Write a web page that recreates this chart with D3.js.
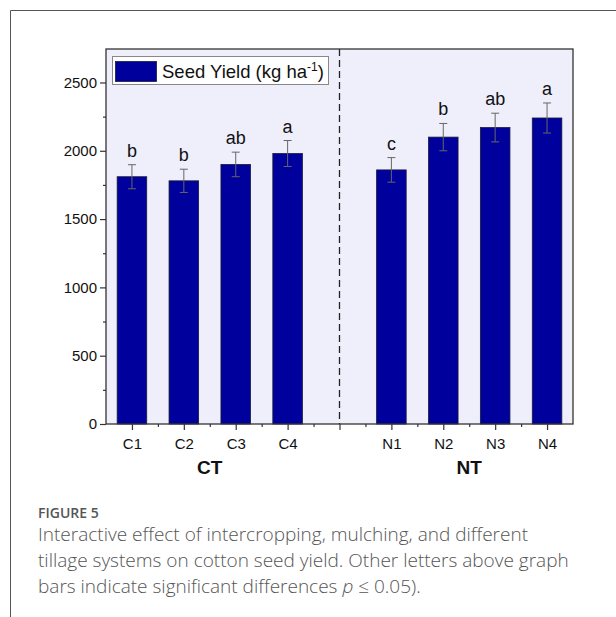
<!DOCTYPE html>
<html>
<head>
<meta charset="utf-8">
<script src="https://cdn.jsdelivr.net/npm/d3@7"></script>
<style>
  html, body { margin: 0; padding: 0; background: #fff; }
  svg { display: block; }
</style>
</head>
<body>
<script>
// Treatments, mean seed yield (kg ha-1), standard error and significance letters
const categories = ["C1", "C2", "C3", "C4", "N1", "N2", "N3", "N4"];
const positions = [0, 1, 2, 3, 5, 6, 7, 8];
const yieldValues = [1810, 1780, 1900, 1980, 1860, 2100, 2170, 2240];
const errorValues = [88, 85, 90, 95, 90, 100, 105, 110];
const letters = ["b", "b", "ab", "a", "c", "b", "ab", "a"];
const groups = ["CT", "NT"];
const groupCenters = [1.5, 6.5];
const yTicks = [0, 500, 1000, 1500, 2000, 2500];

const W = 616, H = 617;
const svg = d3.select("body").append("svg").attr("width", W).attr("height", H);

// outer card border (top and left edges)
svg.append("path")
  .attr("d", `M10.5,${H} L10.5,10.5 L${W},10.5`)
  .attr("fill", "none").attr("stroke", "#555").attr("stroke-width", 1);

const plot = { left: 106, right: 573, top: 49, bottom: 424 };

const x = d3.scaleLinear().domain([-0.5, 8.5]).range([plot.left, plot.right]);
const y = d3.scaleLinear().domain([0, 2745]).range([plot.bottom, plot.top]);

const font = "'Liberation Sans', Arial, sans-serif";

// plot background
svg.append("rect")
  .attr("x", plot.left).attr("y", plot.top)
  .attr("width", plot.right - plot.left).attr("height", plot.bottom - plot.top)
  .attr("fill", "#efeffb");

// separator between tillage systems
svg.append("line")
  .attr("x1", x(4)).attr("x2", x(4))
  .attr("y1", plot.top).attr("y2", plot.bottom)
  .attr("stroke", "#222").attr("stroke-width", 1.3)
  .attr("stroke-dasharray", "7,4");

const barW = x(0.57) - x(0);

const data = categories.map((c, i) => ({
  c, pos: positions[i], v: yieldValues[i], e: errorValues[i], l: letters[i]
}));

// bars
svg.append("g").selectAll("rect").data(data).join("rect")
  .attr("x", d => x(d.pos) - barW / 2)
  .attr("y", d => y(d.v))
  .attr("width", barW)
  .attr("height", d => y(0) - y(d.v))
  .attr("fill", "#00009c")
  .attr("stroke", "#1a1a3a").attr("stroke-width", 0.8);

// error bars
const eg = svg.append("g").attr("stroke", "#666").attr("stroke-width", 1);
eg.selectAll("line.v").data(data).join("line").attr("class", "v")
  .attr("x1", d => x(d.pos)).attr("x2", d => x(d.pos))
  .attr("y1", d => y(d.v + d.e)).attr("y2", d => y(d.v - d.e));
eg.selectAll("line.t").data(data).join("line").attr("class", "t")
  .attr("x1", d => x(d.pos) - 4).attr("x2", d => x(d.pos) + 4)
  .attr("y1", d => y(d.v + d.e)).attr("y2", d => y(d.v + d.e));
eg.selectAll("line.b").data(data).join("line").attr("class", "b")
  .attr("x1", d => x(d.pos) - 4).attr("x2", d => x(d.pos) + 4)
  .attr("y1", d => y(d.v - d.e)).attr("y2", d => y(d.v - d.e));

// significance letters
svg.append("g").selectAll("text").data(data).join("text")
  .attr("x", d => x(d.pos))
  .attr("y", d => y(d.v + d.e) - 8)
  .attr("text-anchor", "middle")
  .attr("font-family", font).attr("font-size", 18).attr("fill", "#111")
  .text(d => d.l);

// plot frame
svg.append("rect")
  .attr("x", plot.left).attr("y", plot.top)
  .attr("width", plot.right - plot.left).attr("height", plot.bottom - plot.top)
  .attr("fill", "none").attr("stroke", "#333").attr("stroke-width", 1.3);

// y axis
const yAxis = svg.append("g").attr("transform", `translate(${plot.left},0)`)
  .call(d3.axisLeft(y).tickValues(yTicks).tickSize(6).tickPadding(3).tickFormat(d3.format("d")));
yAxis.select(".domain").remove();
yAxis.selectAll("text").attr("font-family", font).attr("font-size", 15).attr("fill", "#111");
yAxis.selectAll("line").attr("stroke", "#333").attr("stroke-width", 1.2);
const yMinor = svg.append("g").attr("transform", `translate(${plot.left},0)`)
  .call(d3.axisLeft(y).tickValues(d3.range(250, 2750, 500)).tickSize(3).tickFormat(""));
yMinor.select(".domain").remove();
yMinor.selectAll("line").attr("stroke", "#333").attr("stroke-width", 1.2);

// x axis: major ticks at each slot, labels at categories
const xAxis = svg.append("g").attr("transform", `translate(0,${plot.bottom})`)
  .call(d3.axisBottom(x).tickValues(d3.range(0, 9)).tickSize(6).tickPadding(8)
    .tickFormat(d => { const i = positions.indexOf(d); return i >= 0 ? categories[i] : ""; }));
xAxis.select(".domain").remove();
xAxis.selectAll("text").attr("font-family", font).attr("font-size", 15).attr("fill", "#111");
xAxis.selectAll("line").attr("stroke", "#333").attr("stroke-width", 1.2);
const xMinor = svg.append("g").attr("transform", `translate(0,${plot.bottom})`)
  .call(d3.axisBottom(x).tickValues(d3.range(0.5, 8.5, 1)).tickSize(3).tickFormat(""));
xMinor.select(".domain").remove();
xMinor.selectAll("line").attr("stroke", "#333").attr("stroke-width", 1.2);

// group titles
svg.append("g").selectAll("text").data(groups).join("text")
  .attr("x", (d, i) => x(groupCenters[i]))
  .attr("y", 474)
  .attr("text-anchor", "middle")
  .attr("font-family", font).attr("font-size", 19).attr("font-weight", "bold").attr("fill", "#111")
  .text(d => d);

// legend
const lg = svg.append("g");
lg.append("rect").attr("x", 112.5).attr("y", 56.5).attr("width", 216).attr("height", 28)
  .attr("fill", "#fff").attr("stroke", "#888").attr("stroke-width", 1);
lg.append("rect").attr("x", 115.5).attr("y", 61.5).attr("width", 41).attr("height", 20)
  .attr("fill", "#00009c").attr("stroke", "#1a1a3a").attr("stroke-width", 0.8);
const lt = lg.append("text").attr("x", 162).attr("y", 78)
  .attr("font-family", font).attr("font-size", 18.5).attr("fill", "#111");
lt.append("tspan").text("Seed Yield (kg ha");
lt.append("tspan").attr("font-size", 12).attr("dy", -7).text("-1");
lt.append("tspan").attr("dy", 7).text(")");

// caption
const capFont = "'Open Sans', 'Noto Sans', sans-serif";
svg.append("text").attr("x", 38).attr("y", 518)
  .attr("font-family", capFont).attr("font-size", 14).attr("font-weight", 600).attr("fill", "#555")
  .text("FIGURE 5");
const capLines = [
  "Interactive effect of intercropping, mulching, and different",
  "tillage systems on cotton seed yield. Other letters above graph"
];
svg.append("g").selectAll("text").data(capLines).join("text")
  .attr("x", 38).attr("y", (d, i) => 541 + i * 26)
  .attr("font-family", capFont).attr("font-size", 19).attr("font-weight", 300).attr("fill", "#555")
  .text(d => d);
const last = svg.append("text").attr("x", 38).attr("y", 593)
  .attr("font-family", capFont).attr("font-size", 19).attr("font-weight", 300).attr("fill", "#555");
last.append("tspan").text("bars indicate significant differences ");
last.append("tspan").attr("font-style", "italic").text("p");
last.append("tspan").text(" \u2264 0.05).");
</script>
</body>
</html>
